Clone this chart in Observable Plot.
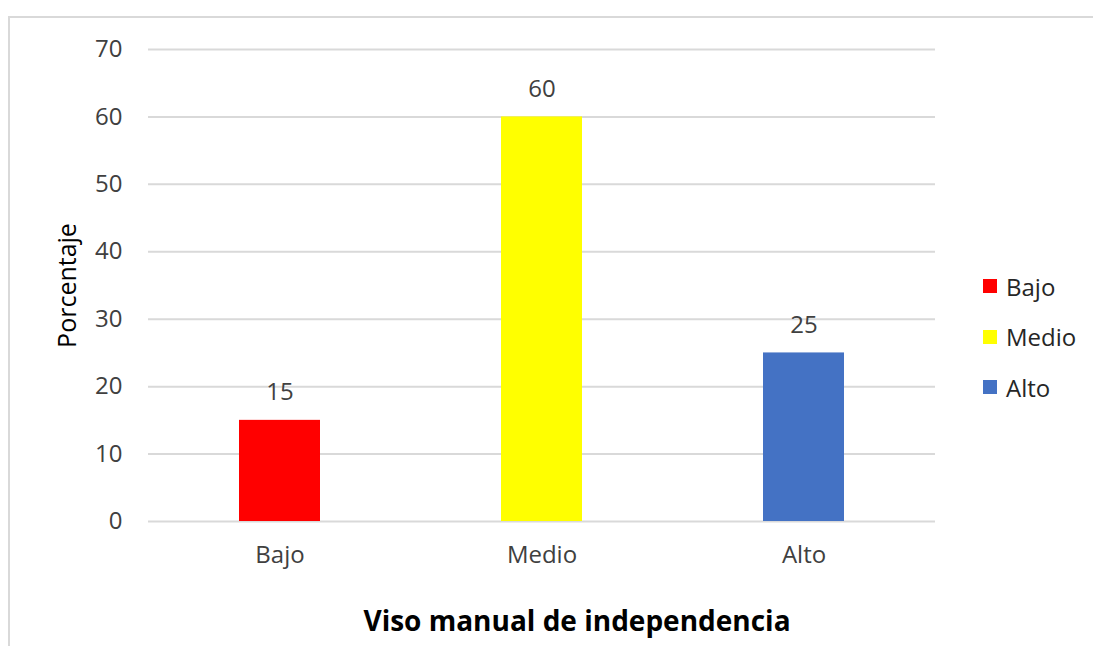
<!DOCTYPE html>
<html>
<head>
<meta charset="utf-8">
<script src="https://cdn.jsdelivr.net/npm/d3@7"></script>
<script src="https://cdn.jsdelivr.net/npm/@observablehq/plot@0.6"></script>
<style>
  html, body { margin: 0; padding: 0; background: #fff; }
  body { width: 1093px; height: 646px; position: relative; overflow: hidden; font-family: "Open Sans", sans-serif; }
  #frame { position: absolute; left: 8px; top: 16px; width: 1200px; height: 800px; border-top: 2px solid #d9d9d9; border-left: 2px solid #d9d9d9; box-sizing: border-box; }
  #chart { position: absolute; left: 0; top: 0; }
  #legend { position: absolute; left: 983px; top: 261px; font-size: 24px; color: #262626; }
  #legend .row { display: flex; align-items: center; height: 50.5px; }
  #legend .sw { width: 14px; height: 14px; margin-right: 9px; }
</style>
</head>
<body>
<div id="frame"></div>
<div id="chart"></div>
<div id="legend"></div>
<script>
const categories = ["Bajo", "Medio", "Alto"];
const values = [15, 60, 25];
const colors = ["#ff0000", "#ffff00", "#4472c4"];
const yTicks = [0, 10, 20, 30, 40, 50, 60, 70];
const yLabel = "Porcentaje";
const xLabel = "Viso manual de independencia";

const data = categories.map((c, i) => ({category: c, value: values[i]}));

const chart = Plot.plot({
  width: 1093,
  height: 646,
  marginLeft: 148,
  marginRight: 158,
  marginTop: 49,
  marginBottom: 125,
  style: {fontFamily: "'Open Sans', sans-serif", fontSize: "24px", color: "#404040", background: "transparent"},
  x: {domain: categories, paddingInner: 0.69, paddingOuter: 0.345, label: null},
  y: {domain: [0, 70], label: null},
  color: {domain: categories, range: colors},
  marks: [
    Plot.gridY(yTicks, {stroke: "#d9d9d9", strokeOpacity: 1, strokeWidth: 2}),
    Plot.barY(data, {x: "category", y: "value", fill: "category"}),
    Plot.text(data, {x: "category", y: "value", text: d => String(d.value), dy: -28, fill: "#404040", fontSize: 24}),
    Plot.axisY({ticks: yTicks, tickSize: 0, tickPadding: 26, label: null, fontSize: 24, fill: "#404040"}),
    Plot.axisX({tickSize: 0, tickPadding: 24, label: null, fontSize: 24, fill: "#404040"}),
    Plot.text([yLabel], {frameAnchor: "left", dx: -81, rotate: -90, textAnchor: "middle", lineAnchor: "middle", fontSize: 25, fill: "#000"}),
    Plot.text([xLabel], {frameAnchor: "bottom", dx: 35, dy: 101, textAnchor: "middle", lineAnchor: "middle", fontSize: 28, fontWeight: "bold", fill: "#000"})
  ]
});
document.getElementById("chart").appendChild(chart);

const legend = document.getElementById("legend");
categories.forEach((c, i) => {
  const row = document.createElement("div");
  row.className = "row";
  const sw = document.createElement("div");
  sw.className = "sw";
  sw.style.background = colors[i];
  const t = document.createElement("span");
  t.textContent = c;
  row.appendChild(sw);
  row.appendChild(t);
  legend.appendChild(row);
});
</script>
</body>
</html>
